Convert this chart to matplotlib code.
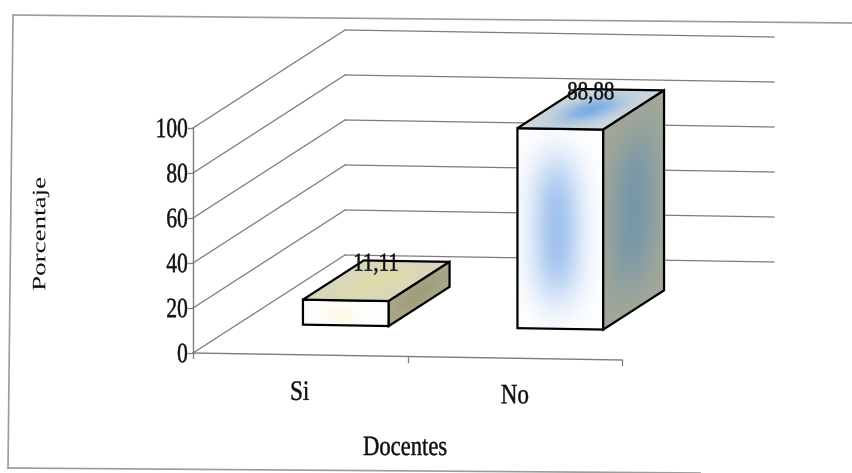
import numpy as np
import matplotlib
matplotlib.use('Agg')
from matplotlib import pyplot as plt
from matplotlib.patches import Polygon, PathPatch
from matplotlib.colors import to_rgb
from matplotlib.textpath import TextPath
from matplotlib.font_manager import FontProperties
from matplotlib.transforms import Affine2D

categorias = ['Si', 'No']
porcentajes = [11.11, 88.88]
etiquetas = ['11,11', '88,88']
ticks_y = [0, 20, 40, 60, 80, 100]
titulo_x = 'Docentes'
titulo_y = 'Porcentaje'

W, H = 852, 473
PROP = FontProperties(family='Liberation Serif')

# oblique projection (category, value, depth) -> figure pixels, y pointing down
ORIGEN = np.array([193.0, 353.0])
PASO_CAT = np.array([214.5, 3.5])
PASO_VAL = 2.25
FONDO = np.array([152.0, -98.0])
Z0, Z1 = 0.30, 0.70       # bar depth span
ANCHO = 0.40              # bar width, in category units


def proy(c, v, z):
    return ORIGEN + c * PASO_CAT + z * FONDO + np.array([0.0, -v * PASO_VAL])


def gauss(u, centro, ancho, p=2):
    return np.exp(-np.abs((u - centro) / ancho) ** p)


def texto(ax, x, y, s, ex=21.5, ey=28.0, ha='center', rot=0, grosor=0.3, zorder=6):
    """text drawn as a path, em size ex wide and ey tall (pixels)"""
    tp = TextPath((0, 0), s, size=1, prop=PROP)
    ext = tp.get_extents()
    cy = (ext.y0 + ext.y1) / 2
    cx = {'center': (ext.x0 + ext.x1) / 2, 'right': ext.x1, 'left': ext.x0}[ha]
    tr = Affine2D().translate(-cx, -cy).scale(ex, -ey).rotate_deg(-rot).translate(x, y)
    patch = PathPatch(tr.transform_path(tp), facecolor='#111111',
                      edgecolor='#111111' if grosor else 'none',
                      lw=grosor, zorder=zorder)
    ax.add_patch(patch)


def cara(ax, p0, a, b, base, tinte, peso, zorder):
    """parallelogram face p0, p0+a, p0+a+b, p0+b filled with a tinted gradient"""
    pts = np.array([p0, p0 + a, p0 + a + b, p0 + b])
    x0, y0 = pts.min(axis=0)
    x1, y1 = pts.max(axis=0)
    nx, ny = int(x1 - x0) + 2, int(y1 - y0) + 2
    X, Y = np.meshgrid(np.linspace(x0, x1, nx), np.linspace(y0, y1, ny))
    inv = np.linalg.inv(np.array([a, b]).T)
    dx, dy = X - p0[0], Y - p0[1]
    s = np.clip(inv[0, 0] * dx + inv[0, 1] * dy, 0, 1)
    t = np.clip(inv[1, 0] * dx + inv[1, 1] * dy, 0, 1)
    w = np.clip(peso(s, t), 0, 1)[..., None]
    img = (1 - w) * np.array(to_rgb(base)) + w * np.array(to_rgb(tinte))
    im = ax.imshow(img, extent=(x0, x1, y1, y0), origin='upper',
                   interpolation='bilinear', zorder=zorder)
    borde = Polygon(pts, closed=True, facecolor='none', edgecolor='black',
                    lw=1.6, joinstyle='miter', zorder=zorder + 0.1)
    ax.add_patch(borde)
    im.set_clip_path(borde)


# face colours per bar: (front, top, side) as (base, tint, weight function)
estilos = [
    dict(frente=('#ffffff', '#fbf3c8', lambda s, t: 0.4 * gauss(s, 0.45, 0.25) * gauss(t, 0.6, 0.4)),
         tapa=('#d8d6c0', '#e2dca2', lambda s, t: 0.8 * gauss(s, 0.5, 0.35) * gauss(t, 0.5, 0.45)),
         lado=('#acaa8e', '#98946e', lambda s, t: 0.6 * gauss(s, 0.5, 0.45) * gauss(t, 0.5, 0.5))),
    dict(frente=('#ffffff', '#8ab4ea', lambda s, t: 0.8 * gauss(s, 0.46, 0.3) * gauss(t, 0.5, 0.36, 3)),
         tapa=('#d0d8dc', '#6aa6e8', lambda s, t: 0.85 * gauss(s, 0.5, 0.3) * gauss(t, 0.5, 0.34)),
         lado=('#a4a898', '#6490b0', lambda s, t: 0.7 * gauss(s, 0.5, 0.4) * gauss(t, 0.5, 0.38, 3))),
]

fig = plt.figure(figsize=(W / 100, H / 100), dpi=100)
ax = fig.add_axes((0, 0, 1, 1))
ax.axis('off')

gris = '#7c7c7c'
n_cat = len(categorias)

# back wall gridlines and left wall diagonals
for v in ticks_y:
    a, b = proy(0, v, 1), proy(n_cat, v, 1)
    ax.plot([a[0], b[0]], [a[1], b[1]], color=gris, lw=0.9, zorder=1)
    f = proy(0, v, 0)
    ax.plot([f[0], a[0]], [f[1], a[1]], color=gris, lw=0.9, zorder=1)
    ax.plot([f[0] - 5, f[0]], [f[1], f[1]], color=gris, lw=0.9, zorder=1)
    texto(ax, f[0] - 6, f[1], str(v), ha='right')

# value axis and category (floor) axis
p, q = proy(0, 0, 0), proy(0, ticks_y[-1], 0)
ax.plot([p[0], q[0]], [p[1], q[1]], color=gris, lw=1.0, zorder=1)
r = proy(n_cat, 0, 0)
ax.plot([p[0], r[0]], [p[1], r[1]], color=gris, lw=1.0, zorder=1)
for c in range(n_cat + 1):
    m = proy(c, 0, 0)
    ax.plot([m[0], m[0]], [m[1], m[1] + 5], color=gris, lw=0.9, zorder=1)

# bars
for i, (nombre, valor, etiqueta) in enumerate(zip(categorias, porcentajes, etiquetas)):
    c0 = i + 0.5 - ANCHO / 2
    c1 = i + 0.5 + ANCHO / 2
    est = estilos[i]
    base = 4 + 3 * i
    # front face
    p0 = proy(c0, valor, Z0)
    cara(ax, p0, proy(c1, valor, Z0) - p0, proy(c0, 0, Z0) - p0, *est['frente'], zorder=base)
    # top face
    cara(ax, p0, proy(c1, valor, Z0) - p0, proy(c0, valor, Z1) - p0, *est['tapa'], zorder=base + 1)
    # right side face
    p1 = proy(c1, valor, Z0)
    cara(ax, p1, proy(c1, valor, Z1) - p1, proy(c1, 0, Z0) - p1, *est['lado'], zorder=base + 2)

    # value label over the top face
    lx = proy(i + 0.5, valor, 0.5)[0]
    ly = proy(i + 0.5, valor, Z1)[1] + 3
    texto(ax, lx, ly, etiqueta, ex=21.0, ey=26.0, zorder=20)

    # category label under the floor
    cx, cy = proy(i + 0.5, 0, 0)
    texto(ax, cx, cy + 36, nombre, ex=23.0)

# axis titles
texto(ax, 405, 446, titulo_x, ex=22.6)
texto(ax, 41, 234, titulo_y, ex=27.0, ey=19.0, rot=90, grosor=0)

# outer chart frame
marco = '#9c9c9c'
ax.plot([13, W], [15, 23], color=marco, lw=1.2)
ax.plot([13, 8], [15, 468], color=marco, lw=1.2)
ax.plot([8, 700], [468, 473], color=marco, lw=1.2)

ax.set_xlim(0, W)
ax.set_ylim(H, 0)
ax.set_aspect('auto')

fig.savefig('out.png', dpi=100)
